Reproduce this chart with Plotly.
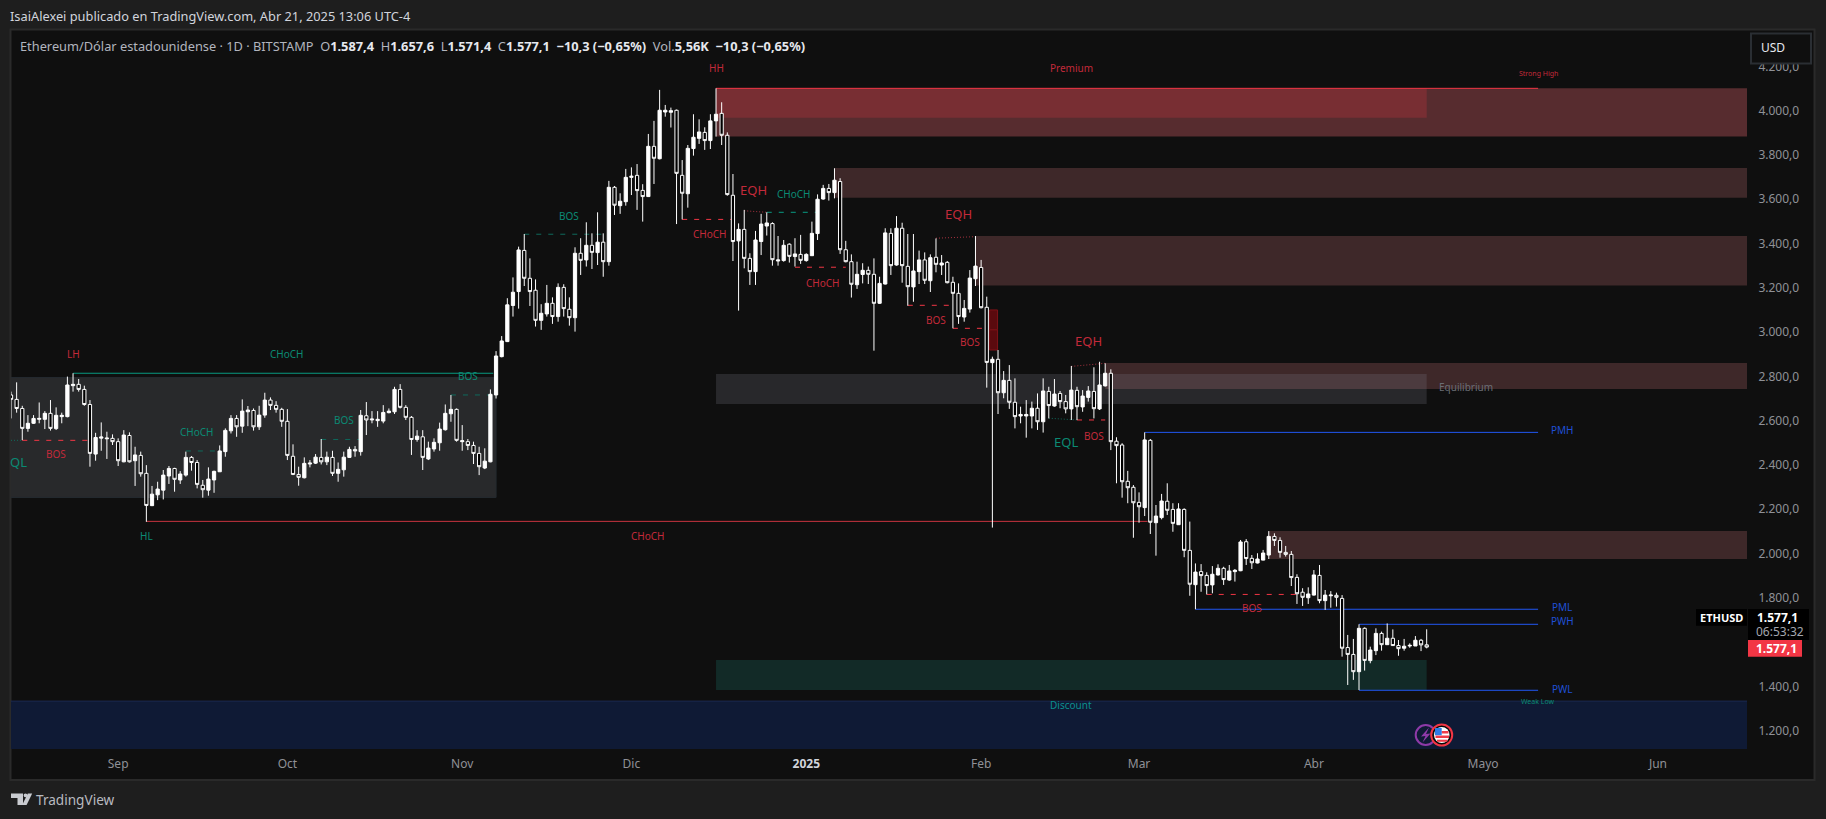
import pandas as pd
import plotly.graph_objects as go

# ---------- daily candles (13 Aug 2024 .. 21 Apr 2025) ----------
dates = pd.date_range("2024-08-13", "2025-04-21", freq="D").strftime("%Y-%m-%d").tolist()

opens = [
 2716,2696,2655,2565,2588,2606,2606,2633,2564,2618,2618,2758,2764,2741,2673,2449,2521,2518,2520,2505,
 2414,2533,2419,2443,2362,2216,2265,2286,2350,2384,2332,2354,2434,2411,2308,2286,2332,2369,2460,2554,
 2610,2575,2640,2646,2572,2625,2693,2669,2651,2597,2439,2357,2342,2404,2408,2434,2414,2434,2362,2378,
 2434,2470,2460,2622,2603,2600,2598,2636,2640,2741,2660,2615,2515,2527,2427,2472,2500,2559,2631,2651,
 2505,2505,2488,2452,2386,2414,2716,2889,2957,3120,3183,3369,3243,3189,3053,3082,3130,3070,3202,3103,
 3065,3356,3326,3392,3359,3406,3318,3654,3571,3589,3699,3708,3640,3612,3839,3783,3994,3993,4002,3708,
 3625,3829,3875,3902,3865,3954,3988,3889,3618,3412,3464,3333,3273,3409,3479,3490,3321,3323,3397,3341,
 3351,3323,3345,3445,3601,3649,3630,3680,3372,3318,3214,3260,3279,3261,3130,3217,3446,3303,3469,3297,
 3204,3273,3326,3232,3338,3303,3315,3225,3175,3068,3104,3241,3292,3112,2862,2877,2726,2782,2683,2621,
 2621,2621,2656,2595,2732,2666,2723,2686,2653,2737,2662,2705,2732,2653,2757,2814,2507,2490,2326,2299,
 2231,2207,2511,2139,2162,2236,2199,2130,2199,2014,1859,1918,1901,1858,1903,1933,1880,1918,1922,2053,
 1978,1957,1970,1993,2077,2059,2005,1996,1892,1825,1800,1812,1901,1787,1809,1811,1797,1575,1544,1466,
 1662,1516,1561,1639,1588,1617,1584,1572,1582,1582,1608,1587.4]
highs = [
 2731,2773,2667,2625,2625,2682,2643,2693,2660,2636,2799,2814,2788,2758,2693,2545,2592,2550,2538,2520,
 2557,2547,2482,2460,2399,2305,2324,2377,2395,2387,2372,2460,2440,2422,2332,2389,2374,2488,2565,2625,
 2625,2696,2666,2655,2667,2726,2705,2688,2658,2652,2493,2392,2434,2422,2449,2517,2460,2464,2411,2460,
 2482,2485,2648,2684,2643,2643,2670,2655,2753,2765,2670,2621,2557,2557,2505,2520,2591,2673,2716,2655,
 2580,2517,2505,2482,2475,2741,2914,2982,3153,3247,3386,3443,3333,3238,3126,3213,3157,3220,3216,3157,
 3383,3424,3496,3446,3541,3446,3683,3660,3627,3737,3744,3759,3668,3895,3954,4094,4026,4014,4005,3777,
 3845,3984,3961,3925,3984,4101,4038,3902,3714,3491,3552,3356,3457,3534,3541,3496,3434,3416,3401,3424,
 3439,3356,3499,3622,3665,3669,3740,3695,3412,3351,3318,3311,3296,3333,3250,3469,3469,3524,3494,3443,
 3443,3368,3360,3351,3423,3348,3321,3250,3220,3145,3280,3434,3326,3160,2889,2919,2824,2851,2791,2663,
 2693,2686,2723,2791,2753,2788,2734,2716,2847,2753,2738,2756,2841,2866,2859,2832,2525,2498,2373,2309,
 2276,2547,2517,2219,2269,2317,2227,2227,2204,2144,1955,1952,1915,1943,1951,1940,1948,1930,2061,2065,
 1993,2001,2016,2101,2091,2073,2034,2011,1906,1843,1847,1925,1948,1835,1830,1823,1812,1632,1614,1680,
 1666,1579,1662,1647,1684,1657,1609,1614,1594,1627,1614,1657.6]
lows = [
 2610,2636,2512,2550,2585,2588,2562,2555,2558,2588,2615,2731,2731,2667,2392,2419,2464,2427,2490,2395,
 2412,2411,2305,2347,2143,2214,2241,2244,2314,2279,2314,2347,2374,2294,2252,2261,2274,2369,2437,2542,
 2527,2545,2575,2555,2558,2613,2648,2636,2572,2422,2354,2306,2339,2389,2404,2402,2399,2350,2324,2347,
 2432,2437,2442,2535,2588,2572,2588,2633,2630,2655,2603,2445,2505,2377,2422,2460,2464,2555,2595,2505,
 2464,2467,2404,2354,2381,2412,2700,2886,2955,3070,3106,3208,3118,3025,3010,3070,3037,3047,3070,3029,
 3002,3258,3296,3285,3303,3250,3300,3529,3534,3571,3619,3552,3499,3610,3669,3780,3973,3924,3488,3509,
 3562,3797,3850,3823,3827,3883,3845,3616,3321,3097,3288,3213,3213,3348,3436,3300,3300,3318,3314,3296,
 3308,3318,3344,3416,3598,3594,3604,3353,3315,3156,3195,3220,3217,2916,3127,3215,3258,3300,3223,3119,
 3137,3217,3217,3181,3270,3258,3220,3017,3037,3047,3088,3208,3107,2749,2117,2630,2701,2653,2565,2588,
 2523,2565,2558,2546,2610,2663,2656,2633,2603,2603,2640,2686,2610,2648,2754,2467,2317,2252,2227,2071,
 2139,2169,2088,1990,2154,2174,2098,2129,1983,1809,1748,1827,1815,1820,1900,1858,1876,1873,1920,1948,
 1930,1955,1969,1975,2034,1981,1986,1853,1772,1763,1772,1810,1775,1745,1755,1760,1534,1406,1429,1383,
 1471,1504,1541,1561,1587,1582,1538,1561,1574,1582,1559,1571.4]
closes = [
 2696,2655,2565,2588,2610,2610,2633,2565,2624,2624,2761,2764,2741,2673,2452,2524,2526,2521,2505,2419,
 2535,2414,2445,2360,2217,2268,2291,2354,2384,2335,2359,2434,2411,2312,2288,2336,2371,2463,2556,2610,
 2572,2643,2648,2572,2625,2693,2669,2651,2597,2443,2357,2344,2407,2408,2435,2414,2435,2362,2380,2435,
 2470,2463,2624,2603,2607,2606,2637,2643,2741,2660,2615,2515,2530,2434,2476,2502,2562,2633,2651,2511,
 2509,2488,2452,2392,2417,2719,2892,2960,3123,3180,3371,3243,3183,3053,3085,3130,3070,3202,3106,3065,
 3356,3324,3392,3360,3406,3318,3654,3573,3591,3699,3704,3639,3612,3839,3785,4002,4002,4000,3717,3627,
 3830,3880,3904,3865,3954,3984,3889,3621,3409,3464,3333,3273,3416,3488,3493,3327,3326,3392,3342,3353,
 3324,3351,3446,3600,3649,3630,3686,3372,3318,3216,3261,3279,3261,3130,3220,3448,3300,3469,3300,3205,
 3276,3326,3234,3336,3306,3312,3223,3175,3070,3107,3244,3298,3110,2863,2877,2726,2782,2683,2618,2628,
 2628,2656,2595,2734,2668,2720,2686,2653,2738,2663,2711,2734,2654,2761,2814,2505,2487,2324,2297,2229,
 2211,2513,2141,2169,2237,2195,2136,2201,2014,1861,1916,1900,1855,1906,1933,1882,1921,1924,2052,1977,
 1958,1975,2002,2077,2059,2005,1996,1891,1818,1802,1817,1903,1787,1812,1812,1802,1572,1544,1466,1662,
 1517,1564,1639,1588,1617,1584,1570,1581,1585,1608,1587,1577.1]

# ---------- axis ticks ----------
price_ticks = [1200, 1400, 1600, 1800, 2000, 2200, 2400, 2600, 2800, 3000, 3200, 3400, 3600, 3800, 4000, 4200]
price_tick_labels = ["1.200,0", "1.400,0", "", "1.800,0", "2.000,0", "2.200,0", "2.400,0", "2.600,0", "2.800,0",
                     "3.000,0", "3.200,0", "3.400,0", "3.600,0", "3.800,0", "4.000,0", "4.200,0"]
month_ticks = ["2024-09-01", "2024-10-01", "2024-11-01", "2024-12-01", "2025-01-01",
               "2025-02-01", "2025-03-01", "2025-04-01", "2025-05-01", "2025-06-01"]
month_labels = ["Sep", "Oct", "Nov", "Dic", "<b style='color:#d1d4dc'>2025</b>", "Feb", "Mar", "Abr", "Mayo", "Jun"]

# ---------- price zones ----------
END = "2025-06-30"
BG_L, BG_R = "2024-08-01", END
zone_start = [BG_L, "2024-12-16", "2024-12-16", "2025-01-06", "2025-01-31", "2025-02-23", "2024-12-16",
              "2025-03-24", "2024-12-16", BG_L, "2025-02-02 12:00", "2025-02-02 12:00"]
zone_end = ["2024-11-07", END, "2025-04-21", END, END, END, "2025-04-21", END, "2025-04-21", END,
            "2025-02-03 22:00", "2025-02-03 22:00"]
zone_high = [2795, 4101, 4101, 3741, 3434, 2860, 2811, 2101, 1519, 1333, 3100, 3010]
zone_low = [2253, 3883, 3968, 3607, 3210, 2743, 2675, 1975, 1383, 1000, 3010, 2919]
zone_fill = ["#28292b", "#572c2f", "rgba(242,54,69,0.22)", "#3e2829", "#3e2829", "#3e2829",
             "rgba(120,123,134,0.24)", "#3e2829", "#122a27", "#0f1a35", "#5a0a0e", "#5a0a0e"]
zone_line = ["#242a30", "rgba(0,0,0,0)", "rgba(0,0,0,0)", "rgba(0,0,0,0)", "rgba(0,0,0,0)", "rgba(0,0,0,0)",
             "rgba(0,0,0,0)", "rgba(0,0,0,0)", "rgba(0,0,0,0)", "#1b2a55", "#7e1218", "#7e1218"]

# ---------- structure lines ----------
RED, TEAL, BLUE, DRED, DTEAL = "#f23645", "#089981", "#2157f3", "#a83240", "#0f6a5c"
line_start = ["2024-08-24", "2024-09-06", "2024-12-16", "2025-03-02", "2025-03-11", "2025-04-09", "2025-04-09",
              "2024-08-15", "2024-08-13", "2024-09-13", "2024-10-07", "2024-10-30", "2024-11-12", "2024-12-10",
              "2024-12-21", "2024-12-25", "2024-12-30", "2025-01-24", "2025-01-19", "2025-01-27", "2025-02-17",
              "2025-02-13", "2025-02-18", "2025-03-13"]
line_end = ["2024-11-06 12:00", "2025-03-02 12:00", "2025-05-10 18:00", "2025-05-10 18:00", "2025-05-10 18:00",
            "2025-05-10 18:00", "2025-05-10 18:00", "2024-08-27", "2024-08-15", "2024-09-19", "2024-10-14",
            "2024-11-06", "2024-11-26", "2024-12-19", "2024-12-25", "2025-01-03", "2025-01-08", "2025-01-31",
            "2025-01-27", "2025-02-01 12:00", "2025-02-23", "2025-02-18", "2025-02-23", "2025-03-29"]
line_y0 = [2814, 2145, 4101, 2547, 1748, 1680, 1382, 2511, 2511, 2463, 2515, 2716, 3442, 3509,
           3548, 3541, 3293, 3424, 3121, 3017, 2845, 2611, 2603, 1815]
line_y1 = [2814, 2145, 4101, 2547, 1748, 1680, 1382, 2511, 2511, 2463, 2515, 2716, 3442, 3509,
           3541, 3541, 3293, 3431, 3121, 3017, 2859, 2603, 2603, 1815]
line_color = [TEAL, "#c8343f", RED, BLUE, BLUE, BLUE, BLUE, RED, DTEAL, DTEAL, DTEAL, DTEAL, DTEAL, RED,
              DRED, TEAL, RED, DRED, RED, RED, DRED, DTEAL, RED, RED]
line_dash = ["solid"] * 7 + ["5px,7px"] * 17
for i in (8, 14, 17, 20, 21):
    line_dash[i] = "1px,2px"

# ---------- chart labels ----------
R, T, B = "#c32a3a", "#0b8a74", "#1f4fd8"
label_text = ["Premium", "HH", "Strong High", "EQH", "CHoCH", "BOS", "CHoCH", "CHoCH", "EQH", "BOS", "BOS", "EQH",
              "EQL", "BOS", "Equilibrium", "PMH", "PML", "PWH", "PWL", "Weak Low", "Discount", "BOS", "CHoCH",
              "HL", "LH", "CHoCH", "BOS", "QL", "CHoCH", "BOS", "BOS"]
label_date = ["2025-02-17", "2024-12-16", "2025-05-10 18:00", "2024-12-22 14:00", "2024-12-29 20:00", "2024-11-20",
              "2024-12-15", "2025-01-04", "2025-01-28", "2025-01-24", "2025-01-30", "2025-02-20", "2025-02-16",
              "2025-02-21", "2025-04-28", "2025-05-15", "2025-05-15", "2025-05-15", "2025-05-15", "2025-05-10 18:00",
              "2025-02-17", "2025-03-21", "2024-12-04", "2024-09-06", "2024-08-24", "2024-10-01", "2024-08-21",
              "2024-08-14 10:00", "2024-09-15", "2024-10-11", "2024-11-02"]
label_price = [4190, 4190, 4164, 3639, 3619, 3520, 3439, 3217, 3530, 3049, 2951, 2957, 2499, 2526, 2748, 2553, 1754,
               1690, 1383, 1325, 1312, 1749, 2074, 2073, 2896, 2896, 2445, 2410, 2544, 2598, 2796]
label_color = [R, R, R, R, T, T, R, R, R, R, R, R, T, R, "#6b6e76", B, B, B, B, T, "#0b8f8f", R, R, T, R, T, R, T, T, T, T]
label_size = [10, 10, 7, 13, 10, 10, 10, 10, 13, 10, 10, 13, 13, 10, 10, 10, 10, 10, 10, 7, 10, 10, 10, 10, 10, 10, 10, 13, 10, 10, 10]

fig = go.Figure()
fig.add_trace(go.Candlestick(
    x=dates, open=opens, high=highs, low=lows, close=closes,
    increasing=dict(line=dict(color="#ffffff", width=1), fillcolor="#ffffff"),
    decreasing=dict(line=dict(color="#ffffff", width=1), fillcolor="#000000"),
    whiskerwidth=0, showlegend=False, hoverinfo="skip",
))

for i in range(len(zone_start)):
    fig.add_shape(type="rect", xref="x", yref="y", layer="below", x0=zone_start[i], x1=zone_end[i],
                  y0=zone_low[i], y1=zone_high[i], fillcolor=zone_fill[i], line=dict(color=zone_line[i], width=1))
for i in range(len(line_start)):
    fig.add_shape(type="line", xref="x", yref="y", layer="below", x0=line_start[i], x1=line_end[i],
                  y0=line_y0[i], y1=line_y1[i], line=dict(color=line_color[i], width=1, dash=line_dash[i]))
# last-price dotted line
fig.add_shape(type="line", xref="paper", yref="y", layer="below", x0=0, x1=1, y0=closes[-1], y1=closes[-1],
              line=dict(color="#000000", width=1, dash="1px,3px"))

for t, d, p, c, s in zip(label_text, label_date, label_price, label_color, label_size):
    fig.add_annotation(x=d, y=p, text=t, xref="x", yref="y", showarrow=False, xanchor="center", yanchor="middle",
                       yshift=1, font=dict(family="Noto Sans", size=s, color=c))

# ---------- page chrome (pixel helpers, not data) ----------
PL, PR, PT, PB = 11, 1747, 30, 749
W, H = 1826, 819
def fx(x): return (x - PL) / (PR - PL)
def fy(y): return 1 - (y - PT) / (PB - PT)
def box(x0, y0, x1, y1, fill, line="rgba(0,0,0,0)", lw=0, layer="above", kind="rect"):
    fig.add_shape(type=kind, xref="paper", yref="paper", layer=layer, x0=fx(x0), x1=fx(x1), y0=fy(y0), y1=fy(y1),
                  fillcolor=fill, line=dict(color=line, width=lw))
def path(points, fill, line="rgba(0,0,0,0)", lw=0):
    d = "M " + " L ".join(f"{fx(a):.6f} {fy(b):.6f}" for a, b in points) + " Z"
    fig.add_shape(type="path", xref="paper", yref="paper", layer="above", path=d, fillcolor=fill,
                  line=dict(color=line, width=lw))
def text(x, y, s, size=12, color="#d1d4dc", anchor="left", family="Noto Sans"):
    fig.add_annotation(x=fx(x), y=fy(y), xref="paper", yref="paper", text=s, showarrow=False, xanchor=anchor,
                       yanchor="middle", font=dict(family=family, size=size, color=color), borderpad=0, borderwidth=0)

box(10.5, 29.5, 1814.5, 780, "#0f0f0f", "#2a2a2a", 2, layer="below")

text(9.5, 15.5, "IsaiAlexei publicado en TradingView.com, Abr 21, 2025 13:06 UTC-4", 12.8, "#d1d4dc")
V = "<b style='color:#e6e8ee'>%s</b>"
legend = ("Ethereum/Dólar estadounidense · 1D · BITSTAMP &nbsp;O" + V % "1.587,4" + " &nbsp;H" + V % "1.657,6" +
          " &nbsp;L" + V % "1.571,4" + " &nbsp;C" + V % "1.577,1" + " &nbsp;" + V % "−10,3 (−0,65%)" +
          " &nbsp;Vol." + V % "5,56K" + " &nbsp;" + V % "−10,3 (−0,65%)")
text(20, 46, legend, 12.8, "#b2b5be")

# USD button
box(1751, 33.5, 1811, 63.5, "#0f0f0f", "#2a2e33", 2)
text(1761, 48, "USD", 12, "#e6e8ee")

# price tags
box(1696, 609, 1747, 625.7, "#000000")
text(1721.5, 617.5, "<b>ETHUSD</b>", 11, "#ffffff", "center")
box(1748, 609, 1809, 640, "#000000")
text(1777, 617, "<b>1.577,1</b>", 12, "#ffffff", "center")
text(1780, 631, "06:53:32", 12, "#a3a6af", "center")
box(1748, 640, 1802, 656.7, "#f23645")
text(1776, 648, "<b>1.577,1</b>", 12, "#ffffff", "center")

# event icons
box(1415.7, 725, 1435.7, 745, "#0f1a35", "#8e3aa8", 2, kind="circle")
path([(1429, 727.5), (1421, 736.5), (1425.5, 736), (1422.5, 742.5), (1430.5, 733.5), (1426, 734)], "#8e3aa8")
box(1431.2, 724.5, 1452.2, 745.5, "#0a0a0a", "#f23645", 2, kind="circle")
box(1434, 727, 1449.5, 743, "#ffffff", kind="circle")
box(1435.5, 735.5, 1449, 738, "#ee3a48")
box(1437, 739.7, 1447.3, 741.8, "#ee3a48")
box(1441.5, 731, 1448.5, 733.5, "#ee3a48")
box(1435, 728, 1441.7, 735.2, "#2e7ce6")

# TradingView logo
LOGO = "#c9cbd0"
path([(11, 793.5), (23, 793.5), (23, 805), (17.5, 805), (17.5, 798), (11, 798)], LOGO)
path([(32.2, 793.5), (26.6, 805), (22.2, 805), (27.8, 793.5)], LOGO)
box(23.6, 793.4, 27.4, 797.2, LOGO, kind="circle")
text(36, 799, "TradingView", 13.6, "#b8bac0")

fig.update_layout(
    width=W, height=H, margin=dict(l=PL, r=W - PR, t=PT, b=H - PB, autoexpand=False),
    paper_bgcolor="#1e1e1e", plot_bgcolor="#0f0f0f", showlegend=False, hovermode=False, boxgap=0.18,
    font=dict(family="Noto Sans", size=12, color="#8f9197"),
    xaxis=dict(type="date", range=["2024-08-13", "2025-06-16 19:00"], rangeslider=dict(visible=False),
               tickmode="array", tickvals=month_ticks, ticktext=month_labels, showgrid=False, zeroline=False,
               showline=False, ticks="outside", ticklen=4, tickcolor="rgba(0,0,0,0)",
               tickfont=dict(family="Noto Sans", size=12, color="#8f9197")),
    yaxis=dict(range=[1116.8, 4364.5], side="right", tickmode="array", tickvals=price_ticks,
               ticktext=price_tick_labels, showgrid=False, zeroline=False, showline=False, ticks="outside",
               ticklen=8, tickcolor="rgba(0,0,0,0)", tickfont=dict(family="Noto Sans", size=12, color="#8f9197")),
)

fig.write_html("out.html", config={"displayModeBar": False}, post_script=
    "document.body.style.margin='0';document.body.style.background='#1e1e1e';"
    "document.documentElement.style.overflow='hidden';")
